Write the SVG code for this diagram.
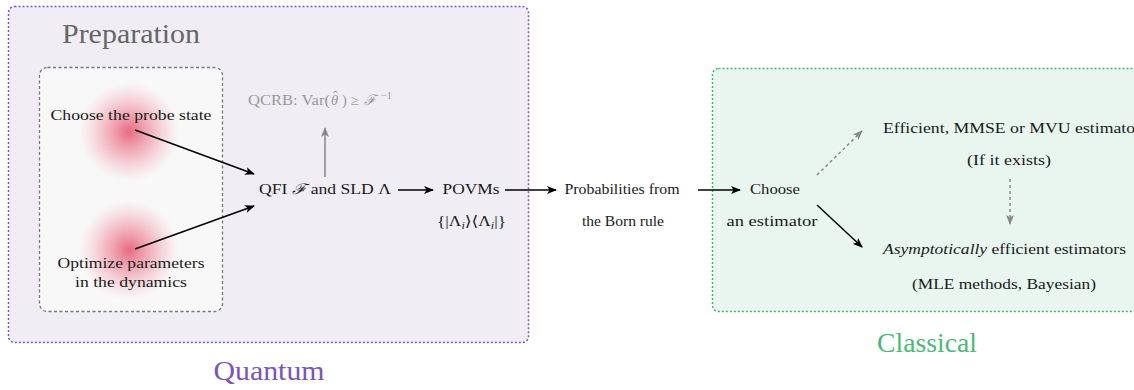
<svg xmlns="http://www.w3.org/2000/svg" width="1134" height="390" viewBox="0 0 1134 390">
<style>
  .t { font-size: 14.5px; fill: #1a1a1a; }
  .big { font-size: 27px; }
  .mid { text-anchor: middle; }
  .conn { stroke: #000; stroke-width: 1.5; fill: none; }
  .gconn { stroke: #888; stroke-width: 1.5; fill: none; }
  .dash { stroke-dasharray: 3 3; }
</style>
<defs>
  <radialGradient id="blob" cx="0.5" cy="0.5" r="0.5">
    <stop offset="0" stop-color="#e5506a" stop-opacity="0.85"/>
    <stop offset="0.5" stop-color="#ec7489" stop-opacity="0.45"/>
    <stop offset="1" stop-color="#f4a0b0" stop-opacity="0"/>
  </radialGradient>
  <marker id="ah" markerUnits="userSpaceOnUse" markerWidth="10" markerHeight="8" refX="9" refY="4" orient="auto" viewBox="0 0 10 8">
    <path d="M0,0 L10,4 L0,8 L2.5,4 z" fill="#000"/>
  </marker>
  <marker id="ahg" markerUnits="userSpaceOnUse" markerWidth="10" markerHeight="8" refX="9" refY="4" orient="auto" viewBox="0 0 10 8">
    <path d="M0,0 L10,4 L0,8 L2.5,4 z" fill="#888"/>
  </marker>
</defs>
<g font-family="Liberation Serif, DejaVu Serif, serif" style="font-family: 'Liberation Serif', 'DejaVu Serif', serif">

<g id="quantum-region">
  <rect x="8.5" y="6.5" width="520" height="336" rx="6" fill="#f0edf5" stroke="#7e57c2" stroke-width="1.5" stroke-dasharray="2 2"/>
  <text x="62" y="43" class="big" fill="#666" textLength="138" lengthAdjust="spacingAndGlyphs">Preparation</text>
  <text x="269" y="380" class="big mid" fill="#7b55b8" textLength="111" lengthAdjust="spacingAndGlyphs">Quantum</text>
</g>

<g id="classical-region">
  <rect x="712.5" y="68.5" width="440" height="243" rx="6" fill="#e9f6ef" stroke="#3cb86a" stroke-width="1.5" stroke-dasharray="2 2"/>
  <text x="927" y="352" class="big mid" fill="#4cb877" textLength="100" lengthAdjust="spacingAndGlyphs">Classical</text>
</g>

<g id="preparation-box">
  <rect x="39.5" y="67.5" width="183" height="244" rx="8" fill="#f8f8f8" stroke="#777" stroke-width="1.3" stroke-dasharray="3 2.5"/>
</g>

<g id="probe-state">
  <circle cx="129" cy="132" r="50" fill="url(#blob)"/>
  <text x="131" y="120" class="t mid" textLength="161" lengthAdjust="spacingAndGlyphs">Choose the probe state</text>
</g>

<g id="dynamics">
  <circle cx="129" cy="250" r="50" fill="url(#blob)"/>
  <text x="131" y="268" class="t mid" textLength="147" lengthAdjust="spacingAndGlyphs">Optimize parameters</text>
  <text x="131" y="287" class="t mid" textLength="112" lengthAdjust="spacingAndGlyphs">in the dynamics</text>
</g>

<g id="qfi">
  <text x="259" y="194" class="t" textLength="132" lengthAdjust="spacingAndGlyphs">QFI <tspan font-style="italic">ℱ</tspan> and SLD Λ</text>
</g>

<g id="qcrb">
  <text y="105" class="t" style="fill:#999"><tspan x="248" textLength="82" lengthAdjust="spacingAndGlyphs">QCRB: Var(</tspan><tspan x="331" font-style="italic">θ</tspan><tspan x="333" dy="-4">ˆ</tspan><tspan x="342" dy="4">)</tspan><tspan x="351">≥</tspan><tspan x="364" font-style="italic">ℱ</tspan><tspan x="381" dy="-6" font-size="10">−1</tspan></text>
</g>

<g id="povms">
  <text x="471" y="194" class="t mid" textLength="57" lengthAdjust="spacingAndGlyphs">POVMs</text>
  <text x="437" y="226" class="t" textLength="69" lengthAdjust="spacingAndGlyphs">{|Λ<tspan font-style="italic" font-size="10" dy="3">i</tspan><tspan dy="-3">⟩⟨Λ</tspan><tspan font-style="italic" font-size="10" dy="3">i</tspan><tspan dy="-3">|}</tspan></text>
</g>

<g id="probabilities">
  <text x="622" y="194" class="t mid" textLength="115" lengthAdjust="spacingAndGlyphs">Probabilities from</text>
  <text x="623" y="226" class="t mid" textLength="82" lengthAdjust="spacingAndGlyphs">the Born rule</text>
</g>

<g id="choose-estimator">
  <text x="775" y="194" class="t mid" textLength="50" lengthAdjust="spacingAndGlyphs">Choose</text>
  <text x="772" y="226" class="t mid" textLength="91" lengthAdjust="spacingAndGlyphs">an estimator</text>
</g>

<g id="efficient">
  <text x="883" y="133" class="t" textLength="258" lengthAdjust="spacingAndGlyphs">Efficient, MMSE or MVU estimator</text>
  <text x="1009" y="165" class="t mid" textLength="84" lengthAdjust="spacingAndGlyphs">(If it exists)</text>
</g>

<g id="asymptotic">
  <text x="883" y="254" class="t" textLength="243" lengthAdjust="spacingAndGlyphs"><tspan font-style="italic">Asymptotically</tspan> efficient estimators</text>
  <text x="1004" y="289" class="t mid" textLength="184" lengthAdjust="spacingAndGlyphs">(MLE methods, Bayesian)</text>
</g>

<g id="connectors">
  <line x1="135" y1="130" x2="254" y2="174" class="conn" marker-end="url(#ah)"/>
  <line x1="135" y1="249" x2="254" y2="206" class="conn" marker-end="url(#ah)"/>
  <line x1="325" y1="177" x2="325" y2="128" class="gconn" marker-end="url(#ahg)"/>
  <line x1="398" y1="190" x2="433" y2="190" class="conn" marker-end="url(#ah)"/>
  <line x1="505" y1="190" x2="556" y2="190" class="conn" marker-end="url(#ah)"/>
  <line x1="698" y1="190" x2="740" y2="190" class="conn" marker-end="url(#ah)"/>
  <line x1="817" y1="175" x2="862" y2="131" class="gconn dash" marker-end="url(#ahg)"/>
  <line x1="1010" y1="179" x2="1010" y2="224" class="gconn dash" marker-end="url(#ahg)"/>
  <line x1="817" y1="205" x2="862" y2="247" class="conn" marker-end="url(#ah)"/>
</g>
</g>
</svg>
